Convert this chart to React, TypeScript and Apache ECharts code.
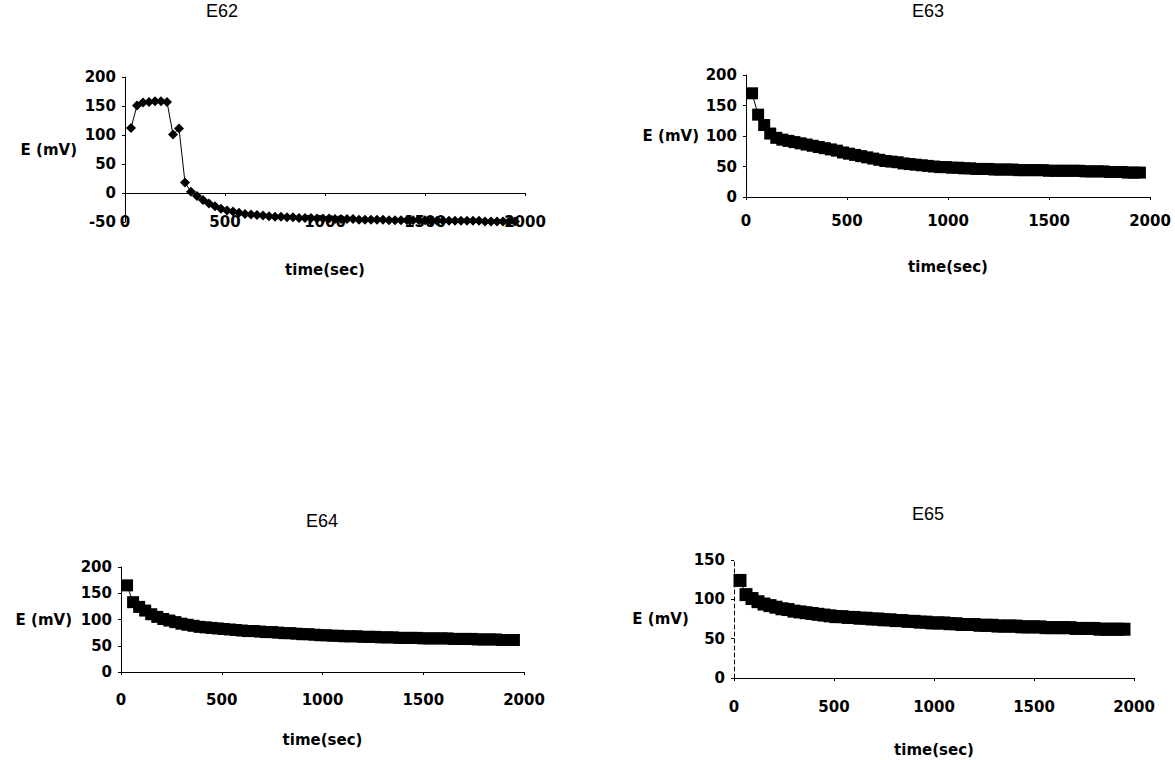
import React, { useEffect, useRef } from "react";
import * as echarts from "echarts";

// time (sec) of every reading
const TIME_SEC = [
  30, 60, 90, 120, 150, 180, 210, 240, 270, 300,
  330, 360, 390, 420, 450, 480, 510, 540, 570, 600,
  630, 660, 690, 720, 750, 780, 810, 840, 870, 900,
  930, 960, 990, 1020, 1050, 1080, 1110, 1140, 1170, 1200,
  1230, 1260, 1290, 1320, 1350, 1380, 1410, 1440, 1470, 1500,
  1530, 1560, 1590, 1620, 1650, 1680, 1710, 1740, 1770, 1800,
  1830, 1860, 1890, 1920, 1950,
];

const E62 = [
  112, 151, 156, 157, 158, 158, 157, 101, 111, 18,
  2, -5, -12, -18, -23, -27, -30, -32, -34, -36,
  -37, -38, -39, -40, -41, -41, -42, -42, -43, -43,
  -43, -44, -44, -44, -45, -45, -45, -45, -46, -46,
  -46, -46, -46, -47, -47, -47, -47, -47, -47, -47,
  -48, -48, -48, -48, -48, -48, -48, -48, -48, -49,
  -49, -49, -49, -49, -49,
];

const E63 = [
  170, 135, 118, 104, 97, 94, 92, 90, 88, 86,
  84, 82, 80, 78, 76, 73, 71, 69, 67, 65,
  63, 61, 59, 58, 57, 55, 54, 53, 52, 51,
  50, 49, 49, 48, 48, 47, 47, 46, 46, 46,
  45, 45, 45, 45, 44, 44, 44, 44, 44, 43,
  43, 43, 43, 43, 43, 42, 42, 42, 42, 41,
  41, 41, 40, 40, 40,
];

const E64 = [
  165, 133, 124, 117, 110, 105, 101, 98, 95, 92,
  90, 88, 86, 85, 84, 83, 82, 81, 80, 79,
  78, 78, 77, 76, 76, 75, 74, 74, 73, 72,
  72, 71, 70, 70, 69, 69, 68, 68, 68, 67,
  67, 67, 66, 66, 66, 65, 65, 65, 65, 64,
  64, 64, 64, 64, 63, 63, 63, 63, 62, 62,
  62, 62, 61, 61, 61,
];

const E65 = [
  124, 106, 101, 97, 94, 92, 90, 88, 87, 85,
  84, 83, 82, 81, 80, 79, 78, 78, 77, 77,
  76, 76, 75, 75, 74, 74, 73, 73, 72, 72,
  71, 71, 70, 70, 70, 69, 69, 68, 68, 68,
  67, 67, 67, 66, 66, 66, 66, 65, 65, 65,
  65, 64, 64, 64, 64, 64, 63, 63, 63, 63,
  62, 62, 62, 62, 62,
];

const TITLES = ["E62", "E63", "E64", "E65"];
const X_NAME = "time(sec)";
const Y_NAME = "E (mV)";

const LABEL_FONT = "DejaVu Sans";
const TITLE_FONT = "Liberation Sans";

function toPairs(t: number[], v: number[]) {
  return t.map((x, i) => [x, v[i]]);
}

const plain = (v: number) => String(v);

export default function App() {
  const ref = useRef<HTMLDivElement>(null);

  useEffect(() => {
    if (!ref.current) return;
    const chart = echarts.init(ref.current, null, { renderer: "svg" });

    const lbl = {
      color: "#000",
      fontFamily: LABEL_FONT,
      fontWeight: "bold" as const,
      fontSize: 15,
    };
    const axisLine = { lineStyle: { color: "#000", width: 1 } };

    const panels = [
      { data: E62, grid: { left: 125, top: 77, width: 400, height: 145 }, yMin: -50, yMax: 200, symbol: "diamond", size: 10, xMargin: -8, xGap: 40, yGap: 48, title: [222, 11] },
      { data: E63, grid: { left: 746, top: 75, width: 404, height: 122 }, yMin: 0, yMax: 200, symbol: "rect", size: 12, xMargin: 16, xGap: 62, yGap: 47, title: [928, 11] },
      { data: E64, grid: { left: 121, top: 567, width: 403, height: 105 }, yMin: 0, yMax: 200, symbol: "rect", size: 12, xMargin: 20, xGap: 60, yGap: 49, title: [322, 521] },
      { data: E65, grid: { left: 734, top: 560, width: 400, height: 118 }, yMin: 0, yMax: 150, symbol: "rect", size: 13, xMargin: 21, xGap: 64, yGap: 44, title: [928, 514] },
    ];

    const grid: any[] = [];
    const xAxis: any[] = [];
    const yAxis: any[] = [];
    const series: any[] = [];
    const graphic: any[] = [];

    panels.forEach((p, i) => {
      grid.push({ ...p.grid, containLabel: false });
      let seriesX = xAxis.length;
      if (i === 0) {
        // axis line through zero with ticks, labels drawn by a second axis at the bottom
        xAxis.push({
          gridIndex: i, type: "value", min: 0, max: 2000, interval: 500,
          axisLine: { ...axisLine, onZero: true },
          axisTick: { show: true, length: 3, lineStyle: { color: "#000" } },
          axisLabel: { show: false },
          splitLine: { show: false },
        });
        seriesX = xAxis.length - 1;
        xAxis.push({
          gridIndex: i, type: "value", min: 0, max: 2000, interval: 500, position: "bottom",
          axisLine: { show: false, onZero: false },
          axisTick: { show: false },
          axisLabel: { ...lbl, margin: p.xMargin, showMinLabel: true, showMaxLabel: true, formatter: plain },
          splitLine: { show: false },
          name: X_NAME, nameLocation: "middle", nameGap: p.xGap, nameTextStyle: lbl,
        });
      } else {
        xAxis.push({
          gridIndex: i, type: "value", min: 0, max: 2000, interval: 500,
          axisLine: { ...axisLine, onZero: false },
          axisTick: { show: true, length: 3, lineStyle: { color: "#000" } },
          axisLabel: { ...lbl, margin: p.xMargin, showMinLabel: true, showMaxLabel: true, formatter: plain },
          splitLine: { show: false },
          name: X_NAME, nameLocation: "middle", nameGap: p.xGap, nameTextStyle: lbl,
        });
      }
      yAxis.push({
        gridIndex: i, type: "value", min: p.yMin, max: p.yMax, interval: 50,
        axisLine: {
          show: true,
          lineStyle: { color: "#000", width: 1, type: i === 3 ? [4, 3] : "solid" },
        },
        axisTick: { show: true, length: 3, lineStyle: { color: "#000" } },
        axisLabel: { ...lbl, margin: 9, showMinLabel: true, showMaxLabel: true, formatter: plain },
        splitLine: { show: false },
        name: Y_NAME, nameLocation: "middle", nameRotate: 0, nameGap: p.yGap, nameTextStyle: lbl,
      });
      series.push({
        name: TITLES[i],
        type: "line",
        xAxisIndex: seriesX,
        yAxisIndex: i,
        data: toPairs(TIME_SEC, p.data),
        symbol: p.symbol,
        symbolSize: p.size,
        showSymbol: true,
        itemStyle: { color: "#000" },
        lineStyle: { color: "#000", width: 1 },
        emphasis: { disabled: true },
      });
      graphic.push({
        type: "text",
        x: p.title[0],
        y: p.title[1],
        style: {
          text: TITLES[i],
          fill: "#000",
          font: `18px "${TITLE_FONT}"`,
          align: "center",
          verticalAlign: "middle",
          textAlign: "center",
          textVerticalAlign: "middle",
        },
      });
    });

    chart.setOption({
      animation: false,
      backgroundColor: "#fff",
      grid,
      xAxis,
      yAxis,
      series,
      graphic,
    });

    return () => chart.dispose();
  }, []);

  return (
    <div
      ref={ref}
      style={{ position: "absolute", left: 0, top: 0, width: 1175, height: 760 }}
    />
  );
}
